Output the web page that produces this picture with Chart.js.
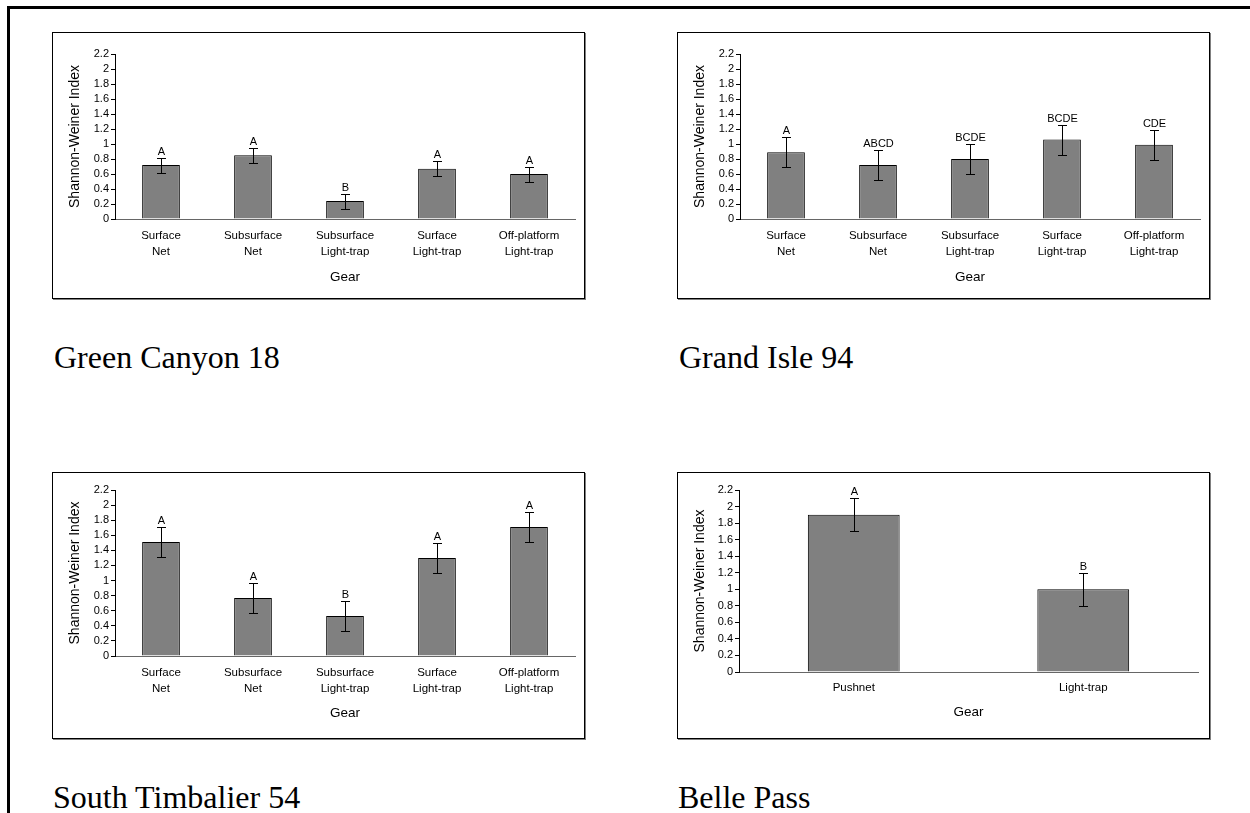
<!DOCTYPE html>
<html lang="en">
<head>
    <meta charset="UTF-8">
    <title>Shannon-Weiner Index by Gear</title>
    <script src="https://cdn.jsdelivr.net/npm/chart.js@4.4.0/dist/chart.umd.min.js"></script>
    <style>
        body {
            margin: 0;
            background: #fff;
            width: 1250px;
            height: 813px;
            overflow: hidden;
            position: relative;
            font-family: 'Liberation Sans', Arial, sans-serif;
        }

        .frame {
            position: absolute;
            left: 7px;
            top: 6px;
            width: 1300px;
            height: 900px;
            border-top: 3px solid #000;
            border-left: 3px solid #000;
        }

        .panel {
            position: absolute;
            width: 531px;
            height: 265px;
            border: 1px solid #000;
            box-shadow: 1px 1px 0 #808080;
            background: #fff;
        }

        .panel canvas {
            display: block;
        }

        .caption {
            position: absolute;
            font-family: 'Liberation Serif', 'Times New Roman', serif;
            font-size: 32px;
            line-height: 32px;
            color: #000;
            white-space: nowrap;
        }
    </style>
</head>
<body>
    <div class="frame"></div>

    <div class="panel" style="left:52px; top:32px;"><canvas id="greenCanyon" width="531" height="265"></canvas></div>
    <div class="panel" style="left:677px; top:32px;"><canvas id="grandIsle" width="531" height="265"></canvas></div>
    <div class="panel" style="left:52px; top:472px;"><canvas id="southTimbalier" width="531" height="265"></canvas></div>
    <div class="panel" style="left:677px; top:472px;"><canvas id="bellePass" width="531" height="265"></canvas></div>

    <div class="caption" style="left:54px; top:341px;">Green Canyon 18</div>
    <div class="caption" style="left:679px; top:341px;">Grand Isle 94</div>
    <div class="caption" style="left:53px; top:781px;">South Timbalier 54</div>
    <div class="caption" style="left:678px; top:781px;">Belle Pass</div>

    <script>
        // categories
        const gearFive = [['Surface', 'Net'], ['Subsurface', 'Net'], ['Subsurface', 'Light-trap'], ['Surface', 'Light-trap'], ['Off-platform', 'Light-trap']];
        const gearTwo = ['Pushnet', 'Light-trap'];

        // Green Canyon 18
        const greenCanyonMeans = [0.72, 0.85, 0.24, 0.67, 0.60];
        const greenCanyonErrors = [0.1, 0.1, 0.1, 0.1, 0.1];
        const greenCanyonLetters = ['A', 'A', 'B', 'A', 'A'];

        // Grand Isle 94
        const grandIsleMeans = [0.89, 0.72, 0.80, 1.06, 0.99];
        const grandIsleErrors = [0.2, 0.2, 0.2, 0.2, 0.2];
        const grandIsleLetters = ['A', 'ABCD', 'BCDE', 'BCDE', 'CDE'];

        // South Timbalier 54
        const southTimbalierMeans = [1.51, 0.77, 0.53, 1.30, 1.71];
        const southTimbalierErrors = [0.2, 0.2, 0.2, 0.2, 0.2];
        const southTimbalierLetters = ['A', 'A', 'B', 'A', 'A'];

        // Belle Pass
        const bellePassMeans = [1.9, 1.0];
        const bellePassErrors = [0.2, 0.2];
        const bellePassLetters = ['A', 'B'];

        // y axis
        const yMin = 0;
        const yMax = 2.2;
        const yStep = 0.2;

        const FONT = "'Liberation Sans', Arial, sans-serif";
        Chart.defaults.font.family = FONT;
        Chart.defaults.color = '#000';

        // error bars + significance letters
        const errorBars = {
            id: 'errorBars',
            afterDatasetsDraw(chart, args, opts) {
                const ctx = chart.ctx;
                const y = chart.scales.y;
                const meta = chart.getDatasetMeta(0);
                const values = chart.data.datasets[0].data;
                ctx.save();
                ctx.strokeStyle = '#000';
                ctx.lineWidth = 1;
                ctx.fillStyle = '#000';
                ctx.font = '11px ' + FONT;
                ctx.textAlign = 'center';
                ctx.textBaseline = 'alphabetic';
                meta.data.forEach((bar, i) => {
                    const x = Math.round(bar.x) + 0.5;
                    const top = Math.round(y.getPixelForValue(values[i] + opts.errors[i])) + 0.5;
                    const bot = Math.round(y.getPixelForValue(values[i] - opts.errors[i])) + 0.5;
                    ctx.beginPath();
                    ctx.moveTo(x, top);
                    ctx.lineTo(x, bot);
                    ctx.moveTo(x - 4.5, top);
                    ctx.lineTo(x + 4.5, top);
                    ctx.moveTo(x - 4.5, bot);
                    ctx.lineTo(x + 4.5, bot);
                    ctx.stroke();
                    ctx.fillText(opts.letters[i], x, top - 4);
                });
                ctx.restore();
            }
        };

        function makeChart(id, labels, means, errors, letters, lay) {
            const ctx = document.getElementById(id).getContext('2d');
            return new Chart(ctx, {
                type: 'bar',
                data: {
                    labels: labels,
                    datasets: [{
                        data: means,
                        backgroundColor: '#808080',
                        borderColor: '#000',
                        borderWidth: 1,
                        barPercentage: lay.barPct,
                        categoryPercentage: 1
                    }]
                },
                options: {
                    responsive: false,
                    animation: false,
                    layout: {
                        padding: { left: 0, right: lay.right, top: lay.top, bottom: 0 }
                    },
                    plugins: {
                        legend: { display: false },
                        tooltip: { enabled: false },
                        errorBars: { errors: errors, letters: letters }
                    },
                    scales: {
                        x: {
                            afterFit: s => { s.height = lay.xHeight; },
                            grid: { display: false, drawTicks: false },
                            border: { display: true, color: '#666', width: 1 },
                            ticks: {
                                color: '#000',
                                padding: lay.tickPad,
                                maxRotation: 0,
                                autoSkip: false,
                                font: { size: 11.5, lineHeight: 1.39 }
                            },
                            title: {
                                display: true,
                                text: 'Gear',
                                color: '#000',
                                font: { size: 13.5 },
                                padding: { top: 0, bottom: lay.gearPad }
                            }
                        },
                        y: {
                            min: yMin,
                            max: yMax,
                            afterFit: s => { s.width = lay.yWidth; },
                            grid: {
                                display: true,
                                drawOnChartArea: false,
                                drawTicks: true,
                                tickLength: 4,
                                color: '#000'
                            },
                            border: { display: true, color: '#000', width: 1 },
                            ticks: {
                                stepSize: yStep,
                                autoSkip: false,
                                color: '#000',
                                padding: 2,
                                font: { size: 11 },
                                callback: v => String(+v.toFixed(1))
                            },
                            title: {
                                display: true,
                                text: 'Shannon-Weiner Index',
                                color: '#000',
                                font: { size: 14 },
                                padding: { top: 14, bottom: 0 }
                            }
                        }
                    }
                },
                plugins: [errorBars]
            });
        }

        const topLayout = { top: 21, xHeight: 79, yWidth: 62, right: 9, tickPad: 9, gearPad: 13, barPct: 0.41 };
        const bottomLayout = { top: 17, xHeight: 82, yWidth: 62, right: 9, tickPad: 9, gearPad: 17, barPct: 0.41 };
        const belleLayout = { top: 17, xHeight: 66, yWidth: 61, right: 11, tickPad: 8, gearPad: 18, barPct: 0.4 };

        makeChart('greenCanyon', gearFive, greenCanyonMeans, greenCanyonErrors, greenCanyonLetters, topLayout);
        makeChart('grandIsle', gearFive, grandIsleMeans, grandIsleErrors, grandIsleLetters, topLayout);
        makeChart('southTimbalier', gearFive, southTimbalierMeans, southTimbalierErrors, southTimbalierLetters, bottomLayout);
        makeChart('bellePass', gearTwo, bellePassMeans, bellePassErrors, bellePassLetters, belleLayout);
    </script>
</body>
</html>
